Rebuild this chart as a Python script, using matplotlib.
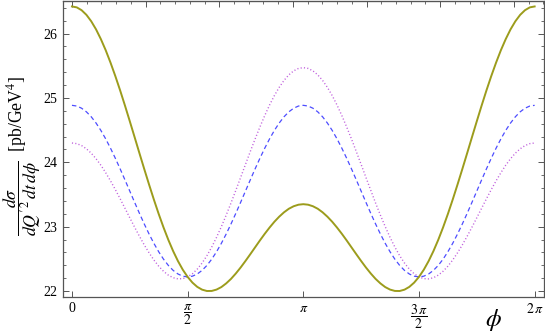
import numpy as np
import matplotlib
matplotlib.use("Agg")
import matplotlib.pyplot as plt
from matplotlib.ticker import MultipleLocator, FixedLocator, NullFormatter

plt.rcParams["font.family"] = ["Liberation Serif", "DejaVu Serif"]
plt.rcParams["mathtext.fontset"] = "stix"
plt.rcParams["lines.scale_dashes"] = False

sigma_solid = [26.420, 26.406, 26.362, 26.290, 26.190, 26.064, 25.913, 25.741, 25.548,
               25.339, 25.116, 24.881, 24.638, 24.391, 24.142, 23.896, 23.655, 23.421,
               23.198, 22.989, 22.796, 22.621, 22.466, 22.332, 22.221, 22.132, 22.066,
               22.023, 22.002, 22.003, 22.024, 22.063, 22.120, 22.190, 22.274, 22.367,
               22.468, 22.573, 22.680, 22.787, 22.890, 22.987, 23.077, 23.156, 23.224,
               23.279, 23.318, 23.342, 23.350,
               23.342, 23.318, 23.279, 23.224, 23.156, 23.077, 22.987, 22.890, 22.787,
               22.680, 22.573, 22.468, 22.367, 22.274, 22.190, 22.120, 22.063, 22.024,
               22.003, 22.002, 22.023, 22.066, 22.132, 22.221, 22.332, 22.466, 22.621,
               22.796, 22.989, 23.198, 23.421, 23.655, 23.896, 24.142, 24.391, 24.638,
               24.881, 25.116, 25.339, 25.548, 25.741, 25.913, 26.064, 26.190, 26.290,
               26.362, 26.406, 26.420]
sigma_dashed = [24.885, 24.874, 24.840, 24.784, 24.707, 24.610, 24.495, 24.364, 24.219,
                24.063, 23.898, 23.727, 23.553, 23.379, 23.208, 23.043, 22.887, 22.742,
                22.611, 22.496, 22.399, 22.322, 22.266, 22.232, 22.221, 22.232, 22.266,
                22.322, 22.399, 22.496, 22.611, 22.742, 22.887, 23.043, 23.208, 23.379,
                23.553, 23.727, 23.898, 24.063, 24.219, 24.364, 24.495, 24.610, 24.707,
                24.784, 24.840, 24.874, 24.885,
                24.874, 24.840, 24.784, 24.707, 24.610, 24.495, 24.364, 24.219, 24.063,
                23.898, 23.727, 23.553, 23.379, 23.208, 23.043, 22.887, 22.742, 22.611,
                22.496, 22.399, 22.322, 22.266, 22.232, 22.221, 22.232, 22.266, 22.322,
                22.399, 22.496, 22.611, 22.742, 22.887, 23.043, 23.208, 23.379, 23.553,
                23.727, 23.898, 24.063, 24.219, 24.364, 24.495, 24.610, 24.707, 24.784,
                24.840, 24.874, 24.885]
sigma_dotted = [24.300, 24.290, 24.260, 24.210, 24.142, 24.056, 23.955, 23.839, 23.712,
                23.577, 23.434, 23.287, 23.139, 22.993, 22.852, 22.718, 22.595, 22.483,
                22.387, 22.308, 22.248, 22.208, 22.190, 22.194, 22.221, 22.270, 22.342,
                22.436, 22.550, 22.684, 22.835, 23.001, 23.180, 23.368, 23.565, 23.765,
                23.967, 24.167, 24.362, 24.549, 24.726, 24.889, 25.036, 25.164, 25.272,
                25.358, 25.420, 25.458, 25.470,
                25.458, 25.420, 25.358, 25.272, 25.164, 25.036, 24.889, 24.726, 24.549,
                24.362, 24.167, 23.967, 23.765, 23.565, 23.368, 23.180, 23.001, 22.835,
                22.684, 22.550, 22.436, 22.342, 22.270, 22.221, 22.194, 22.190, 22.208,
                22.248, 22.308, 22.387, 22.483, 22.595, 22.718, 22.852, 22.993, 23.139,
                23.287, 23.434, 23.577, 23.712, 23.839, 23.955, 24.056, 24.142, 24.210,
                24.260, 24.290, 24.300]

xtick_pos = [0, np.pi / 2, np.pi, 3 * np.pi / 2, 2 * np.pi]
xtick_labels = ["0", r"$\dfrac{\pi}{2}$", r"$\pi$", r"$\dfrac{3\,\pi}{2}$", r"$2\,\pi$"]

fig = plt.figure(figsize=(5.45, 3.34), dpi=100)
ax = fig.add_axes([0.115, 0.111, 0.883, 0.887])

for ys, col, lw, dash in [(sigma_dotted, "#c060dd", 1.0, (0.8, 1.6)),
                          (sigma_dashed, "#4d4dff", 0.9, (3.2, 2.2)),
                          (sigma_solid, "#9c9c1c", 1.4, None)]:
    phi = np.linspace(0, 2 * np.pi, len(ys))
    if dash:
        ax.plot(phi, ys, color=col, lw=lw, dashes=dash)
    else:
        ax.plot(phi, ys, color=col, lw=lw)

ax.set_xlim(-0.126, 2 * np.pi + 0.126)
ax.set_ylim(21.91, 26.51)

frame_col = "#555555"
for s in ax.spines.values():
    s.set_color(frame_col)
    s.set_linewidth(0.9)

ax.xaxis.set_major_locator(FixedLocator(xtick_pos))
ax.set_xticklabels(xtick_labels)
ax.yaxis.set_major_locator(MultipleLocator(1))
ax.yaxis.set_minor_locator(MultipleLocator(0.2))
ax.tick_params(axis="both", which="major", direction="in", length=4, width=0.7,
               color=frame_col, labelsize=10, pad=4)
ax.tick_params(axis="y", which="both", right=True, direction="in", color=frame_col)
ax.tick_params(axis="y", which="minor", length=2, width=0.6)

top = ax.secondary_xaxis("top")
top.xaxis.set_major_locator(MultipleLocator(1))
top.xaxis.set_minor_locator(MultipleLocator(0.2))
top.xaxis.set_major_formatter(NullFormatter())
top.tick_params(which="major", direction="in", length=4, width=0.7, color=frame_col)
top.tick_params(which="minor", direction="in", length=2, width=0.6, color=frame_col)
top.spines["top"].set_color(frame_col)

fig.text(22 / 545, 1 - 156 / 334,
         r"$\dfrac{d\sigma}{dQ'^{2}\,dt\,d\phi}$  [pb/GeV$^{4}$]",
         rotation=90, ha="center", va="center", fontsize=12.8)
fig.text(493 / 545, 1 - 320 / 334, r"$\phi$", ha="center", va="center", fontsize=18)

fig.savefig("out.png", dpi=100)
